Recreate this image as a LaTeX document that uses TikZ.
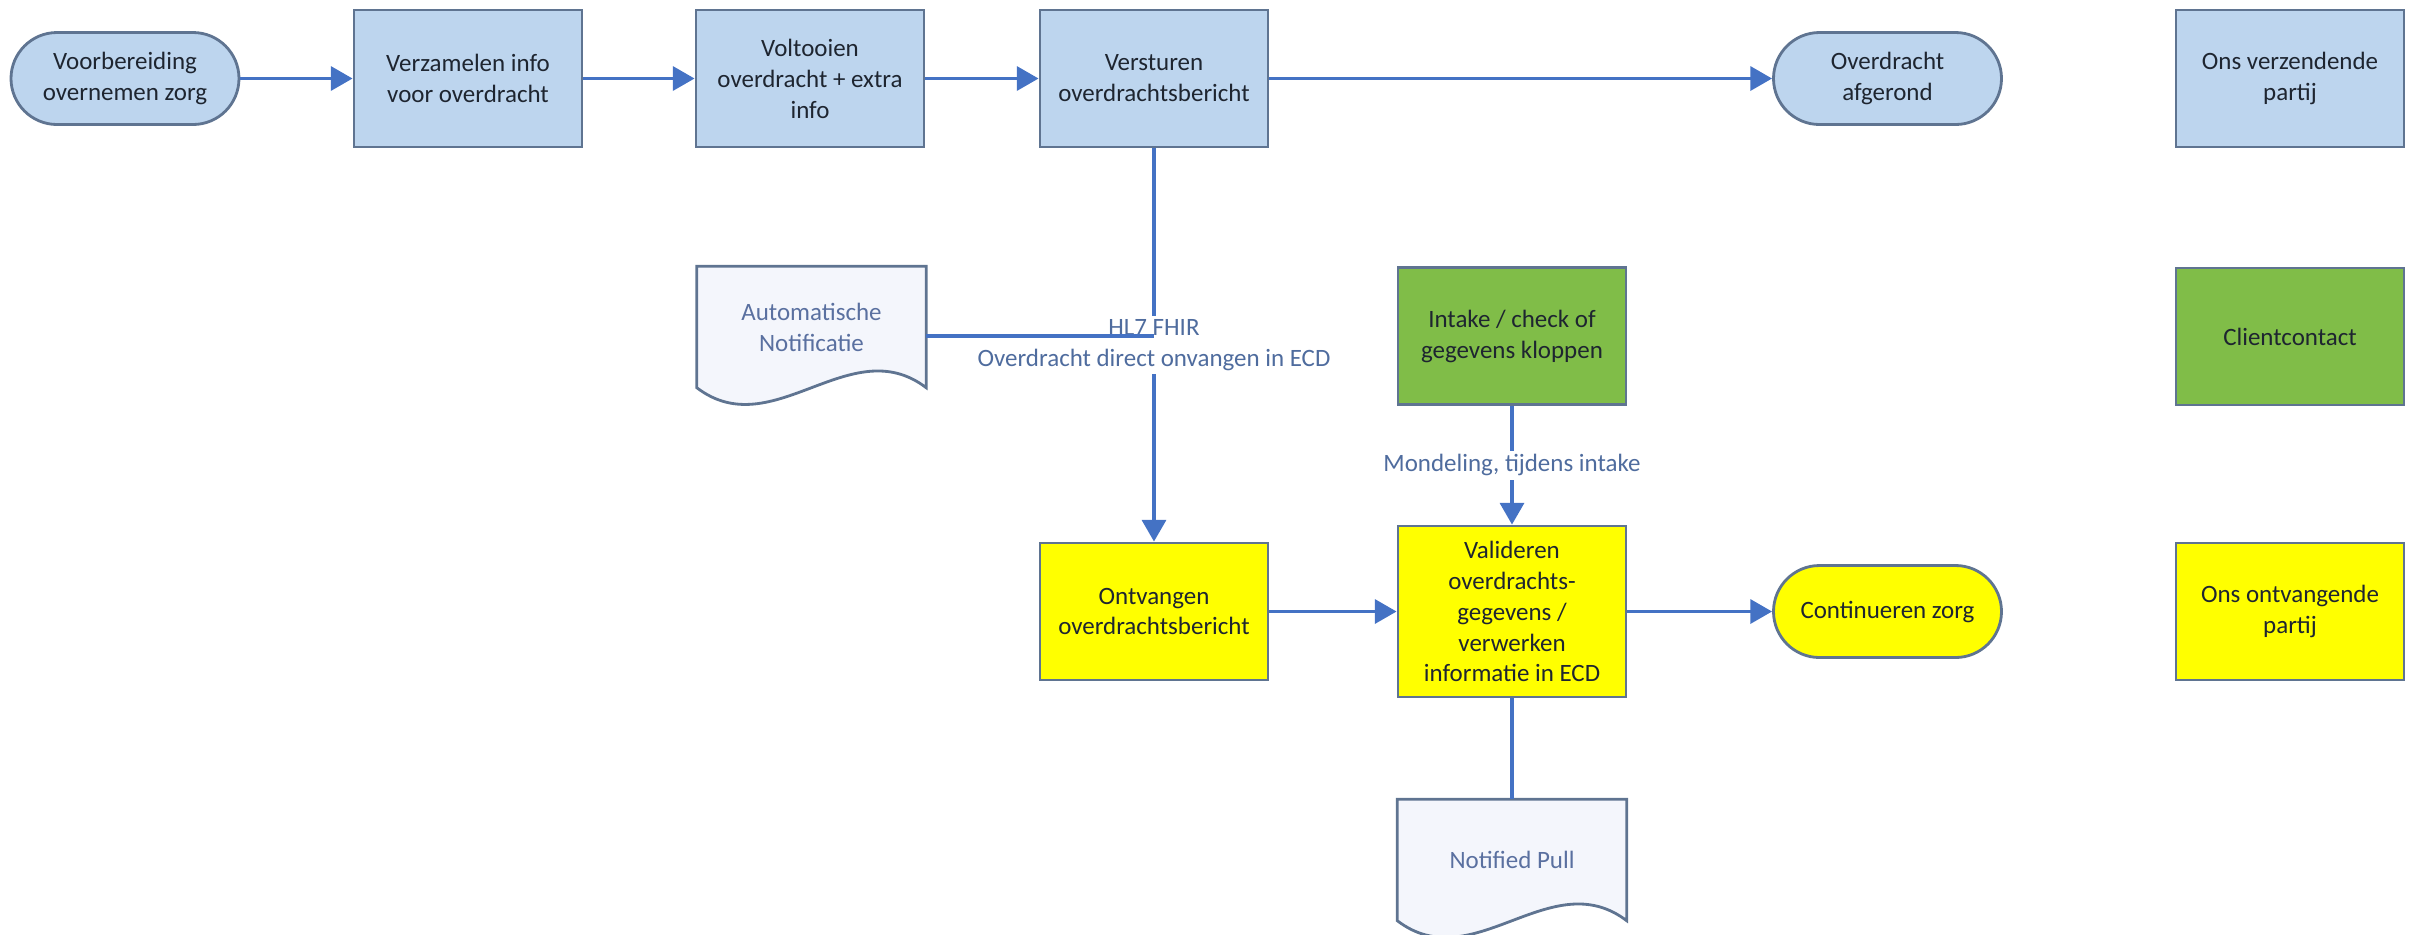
\documentclass[tikz,border=0pt]{standalone}
\usepackage{fontspec}
\setmainfont{Carlito}
\usepackage{tikz}
\usetikzlibrary{arrows.meta}
\usetikzlibrary{backgrounds}

\definecolor{stepblue}{HTML}{BDD5EE}
\definecolor{stepgreen}{HTML}{80BD48}
\definecolor{stepyellow}{HTML}{FFFF00}
\definecolor{boxline}{HTML}{5F7491}
\definecolor{boxtext}{HTML}{1E2530}
\definecolor{flowblue}{HTML}{4472C4}
\definecolor{labelgrey}{HTML}{4F6C9E}
\definecolor{docfill}{HTML}{F4F6FC}
\definecolor{doctext}{HTML}{5A70A0}

\begin{document}
\begin{tikzpicture}[
        every node/.style={font=\fontsize{7.1}{8.8}\selectfont},
        box/.style={rectangle, draw=boxline, line width=0.8pt, minimum width=2.28cm, minimum height=1.37cm, align=center, text=boxtext},
        term/.style={rectangle, rounded corners=0.46cm, draw=boxline, line width=0.8pt, minimum width=2.28cm, minimum height=0.92cm, align=center, text=boxtext},
        docnode/.style={rectangle, minimum width=2.28cm, minimum height=1.2cm, align=center, text=doctext},
        docline/.style={draw=boxline, line width=0.8pt, fill=docfill},
        sender/.style={fill=stepblue},
        client/.style={fill=stepgreen},
        receiver/.style={fill=stepyellow},
        flow/.style={draw=flowblue, line width=1.1pt, -{Triangle[length=6.2pt,width=6.8pt]}},
        link/.style={draw=flowblue, line width=1.1pt},
        edgelabel/.style={fill=white, text=labelgrey, align=center, inner sep=1pt}
        ]

        \useasboundingbox (0,0) rectangle (24.15,-9.34);

        \node[term, sender] (prep) at (1.25,-0.785) {Voorbereiding\\overnemen zorg};
        \node[box, sender] (collect) at (4.68,-0.785) {Verzamelen info\\voor overdracht};
        \node[box, sender] (finish) at (8.10,-0.785) {Voltooien\\overdracht + extra\\info};
        \node[box, sender] (send) at (11.54,-0.785) {Versturen\\overdrachtsbericht};
        \node[term, sender] (done) at (18.875,-0.785) {Overdracht\\afgerond};
        \node[box, sender] (legsend) at (22.90,-0.785) {Ons verzendende\\partij};

        \node[docnode] (notif) at (8.115,-3.27) {Automatische\\Notificatie};
        \node[box, client] (intake) at (15.12,-3.36) {Intake / check of\\gegevens kloppen};
        \node[box, client] (legclient) at (22.90,-3.365) {Clientcontact};

        \node[box, receiver] (receive) at (11.54,-6.115) {Ontvangen\\overdrachtsbericht};
        \node[box, receiver, minimum height=1.71cm] (validate) at (15.12,-6.115) {Valideren\\overdrachts-\\gegevens /\\verwerken\\informatie in ECD};
        \node[term, receiver] (cont) at (18.875,-6.115) {Continueren zorg};
        \node[box, receiver] (legrecv) at (22.90,-6.115) {Ons ontvangende\\partij};

        \node[docnode] (pull) at (15.12,-8.60) {Notified Pull};

        \begin{scope}[on background layer]
        \draw[docline] (notif.south west) -- (notif.north west) -- (notif.north east) -- (notif.south east) .. controls +(-0.76,0.58) and +(0.76,-0.58) .. (notif.south west) -- cycle;
        \draw[docline] (pull.south west) -- (pull.north west) -- (pull.north east) -- (pull.south east) .. controls +(-0.76,0.58) and +(0.76,-0.58) .. (pull.south west) -- cycle;
        \end{scope}

        \coordinate (hub) at (send |- intake);

        \draw[flow] (prep) -- (collect);
        \draw[flow] (collect) -- (finish);
        \draw[flow] (finish) -- (send);
        \draw[flow] (send) -- (done);
        \draw[flow] (send) -- node[edgelabel] {HL7 FHIR\\Overdracht direct onvangen in ECD} (receive);
        \draw[link] (notif.east |- hub) -- (hub);

        \draw[flow] (intake) -- node[edgelabel] {Mondeling, tijdens intake} (validate);
        \draw[flow] (receive) -- (validate);
        \draw[flow] (validate) -- (cont);
        \draw[link] (validate) -- (pull);

\end{tikzpicture}
\end{document}
